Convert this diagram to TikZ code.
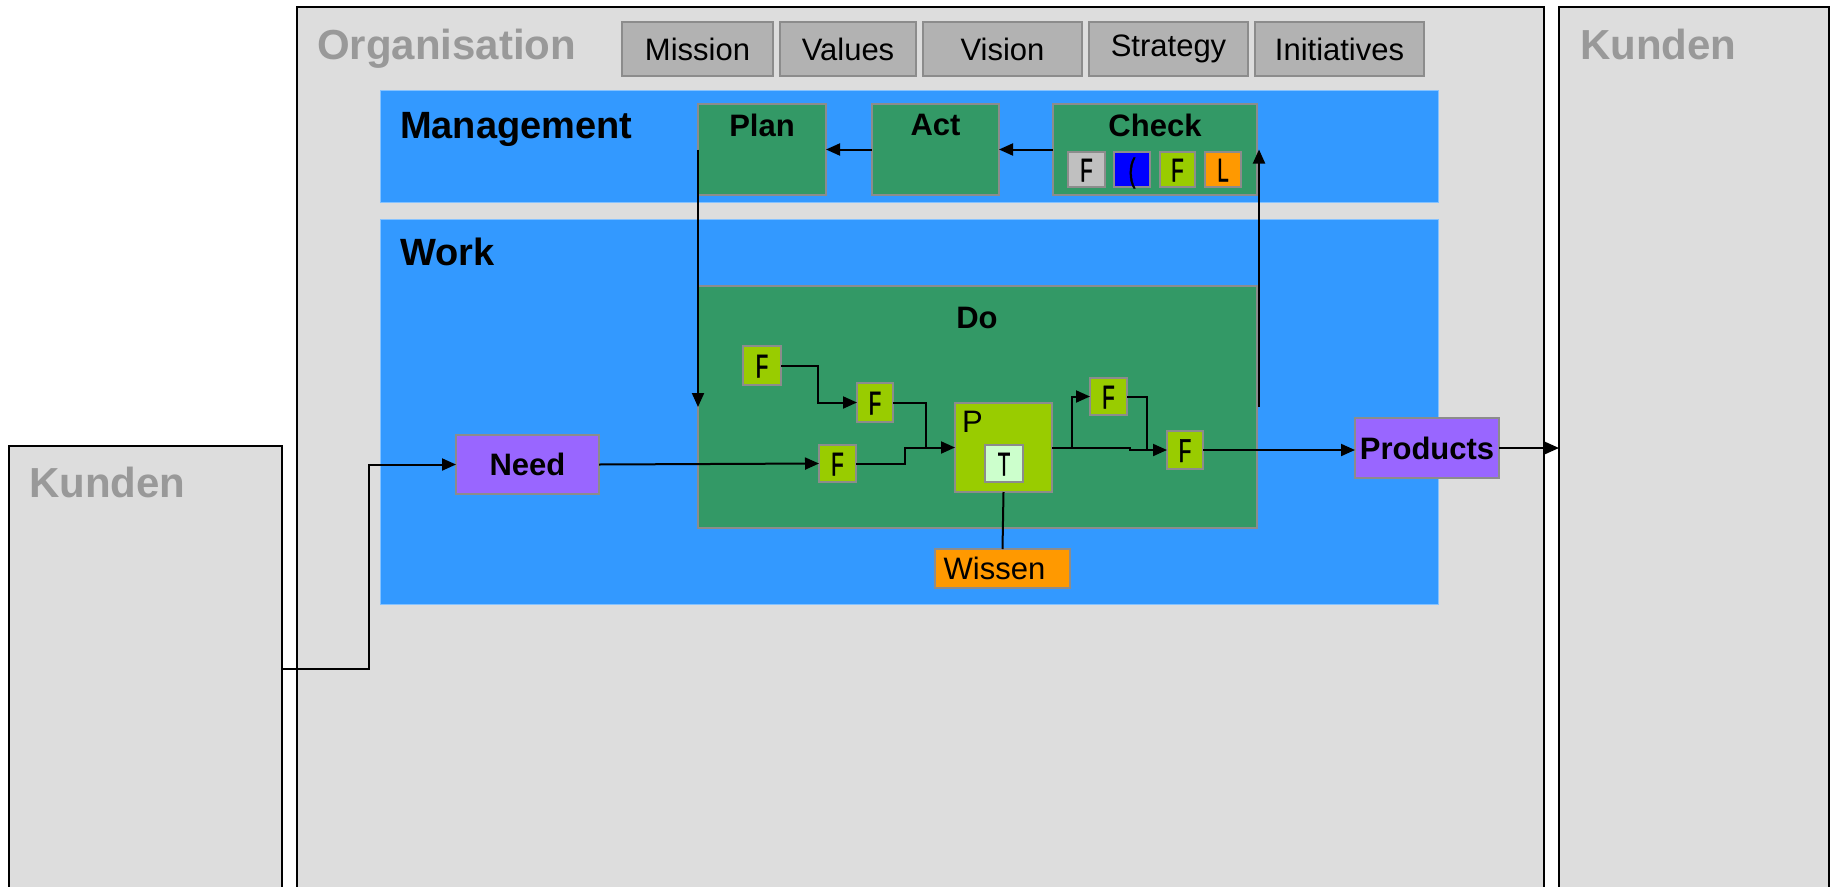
\documentclass[tikz,border=0pt]{standalone}
\usepackage{fontspec}
\setmainfont{Liberation Sans}
\newfontfamily\narrowsans[FakeStretch=0.62,FakeBold=1.2]{Liberation Sans}
\usetikzlibrary{arrows.meta}

\definecolor{panelgray}{HTML}{DDDDDD}
\definecolor{labelgray}{HTML}{999999}
\definecolor{tabgray}{HTML}{B2B2B2}
\definecolor{bandblue}{HTML}{3399FF}
\definecolor{stepgreen}{HTML}{339966}
\definecolor{limegreen}{HTML}{99CC00}
\definecolor{palegreen}{HTML}{CCFFCC}
\definecolor{needviolet}{HTML}{9966FF}
\definecolor{amber}{HTML}{FF9900}
\definecolor{chipgray}{HTML}{C0C0C0}
\definecolor{edgegray}{HTML}{8C8C8C}

\tikzset{
  px/.style={x=1pt,y=-1pt},
  % rectangle node given by width and height in pixels
  boxwh/.style 2 args={rectangle,inner sep=0pt,outer sep=0pt,minimum width=#1pt,minimum height=#2pt},
  panel/.style={fill=panelgray,draw=black,line width=2pt},
  band/.style={fill=bandblue,draw=bandblue!60!white,line width=1pt},
  tab/.style={fill=tabgray,draw=edgegray,line width=1.5pt,font=\fontsize{31}{31}\selectfont},
  stepbox/.style={fill=stepgreen,draw=edgegray,line width=1.5pt},
  letterfont/.style={font=\narrowsans\fontsize{33}{33}\selectfont,text depth=0pt,text height=24pt},
  fbox/.style={fill=limegreen,draw=edgegray,line width=1.5pt,letterfont},
  chip/.style={draw=edgegray,line width=1.5pt,letterfont},
  endbox/.style={fill=needviolet,draw=edgegray,line width=1.5pt,font=\bfseries\fontsize{31}{31}\selectfont},
  biglabel/.style={anchor=base west,inner sep=0pt,text=labelgray,font=\bfseries\fontsize{42}{42}\selectfont},
  bandlabel/.style={anchor=base west,inner sep=0pt,font=\bfseries\fontsize{38}{38}\selectfont},
  steplabel/.style={inner sep=0pt,font=\bfseries\fontsize{31}{31}\selectfont},
  conn/.style={line width=2pt,-{Triangle[length=14pt,width=12pt]}},
  link/.style={line width=2pt},
}

\begin{document}
\begin{tikzpicture}[px]
\useasboundingbox (0,0) rectangle (1833,886);
\fill[white] (0,0) rectangle (1833,886);
\clip (0,0) rectangle (1833,886);

% customer panels and the organisation
\node[panel,boxwh={273}{446}] (kl) at (145.5,669) {};
\node[panel,boxwh={270}{893}] (kr) at (1694,453.5) {};
\node[panel,boxwh={1247}{893}] (org) at (920.5,453.5) {};
\node[biglabel] (kllabel) at (29,497) {Kunden};
\node[biglabel] (krlabel) at (1580,59) {Kunden};
\node[biglabel] (orglabel) at (317,59) {Organisation};

% guiding elements
\node[tab,boxwh={151}{54}] (mission) at (697.5,49) {Mission};
\node[tab,boxwh={136}{54}] (values) at (848,49) {Values};
\node[tab,boxwh={159}{54}] (vision) at (1002.5,49) {Vision};
\node[tab,boxwh={159}{54}] (strategy) at (1168.5,49) {Strategy};
\node[tab,boxwh={169}{54}] (initiatives) at (1339.5,49) {Initiatives};

% management and work layers
\node[band,boxwh={1058}{112}] (mgmt) at (909,146) {};
\node[band,boxwh={1058}{385}] (work) at (909,411.5) {};
\node[bandlabel] (mgmtlabel) at (400,138) {Management};
\node[bandlabel] (worklabel) at (400,265) {Work};

% PDCA steps
\node[stepbox,boxwh={128}{91}] (plan) at (762,149.5) {};
\node[stepbox,boxwh={127}{91}] (act) at (935.5,149.5) {};
\node[stepbox,boxwh={204}{91}] (check) at (1155,149.5) {};
\node[steplabel] (planlabel) at (762,125) {Plan};
\node[steplabel] (actlabel) at (935.5,125) {Act};
\node[steplabel] (checklabel) at (1155,125) {Check};
\node[chip,fill=chipgray,boxwh={37}{35}] (c1) at (1086.5,169.5) {F};
\node[chip,fill=blue,boxwh={36}{35}] (c2) at (1132,169.5) {(};
\node[chip,fill=limegreen,boxwh={35}{35}] (c3) at (1177.5,169.5) {F};
\node[chip,fill=amber,boxwh={36}{35}] (c4) at (1223,169.5) {L};

\node[stepbox,boxwh={559}{242}] (do) at (977.5,407) {};
\node[steplabel] (dolabel) at (977,318) {Do};

% process inside Do
\node[fbox,boxwh={38}{39}] (f1) at (762,365.5) {F};
\node[fbox,boxwh={36}{39}] (f2) at (875,402.5) {F};
\node[fbox,boxwh={37}{37}] (f3) at (837.5,463.5) {F};
\node[fbox,boxwh={97}{89}] (p) at (1003.5,447.5) {};
\node[anchor=base west,inner sep=0pt,font=\fontsize{31}{31}\selectfont] (plabel) at (962,432) {P};
\node[chip,fill=palegreen,boxwh={38}{37}] (t) at (1004,463.5) {T};
\node[fbox,boxwh={37}{37}] (f4) at (1108.5,396.5) {F};
\node[fbox,boxwh={36}{38}] (f5) at (1185,450) {F};

\node[endbox,boxwh={143}{59}] (need) at (527.5,464.5) {Need};
\node[endbox,boxwh={144}{60}] (products) at (1427,448) {Products};
\node[fill=amber,draw=edgegray,line width=1.5pt,boxwh={135}{39},font=\fontsize{31}{31}\selectfont] (wissen) at (1002.5,568.5) {\hspace*{-16pt}Wissen};

% junction points on the flow lines
\coordinate (jin) at (926,447.5);
\coordinate (jout) at (1072,447.5);
\coordinate (jf5) at (1147,450);

% connectors
\draw[conn] (kl.east) -- ++(87,0) |- (need.west);
\draw[conn] (need.east) -- (f3.west);
\draw[conn] (f3.east) -- ++(49,0) |- (p.west);
\draw[conn] (f1.east) -- ++(37,0) |- (f2.west);
\draw[link] (f2.east) -| (jin);
\draw[conn] (p.east) -- ++(78,0) |- (f5.west);
\draw[conn] (jout) |- (f4.west);
\draw[link] (f4.east) -| (jf5);
\draw[conn] (f5.east) -- (f5.east -| products.west);
\draw[conn] (products.east) -- (products.east -| kr.west);
\draw[link] (p.south) -- (wissen.north);
\draw[conn] (act.west) -- (plan.east);
\draw[conn] (check.west) -- (act.east);
\draw[conn] (plan.west) -- (do.west);
\draw[conn] ([xshift=2pt]do.east) -- ([xshift=2pt]check.east);
\end{tikzpicture}
\end{document}
